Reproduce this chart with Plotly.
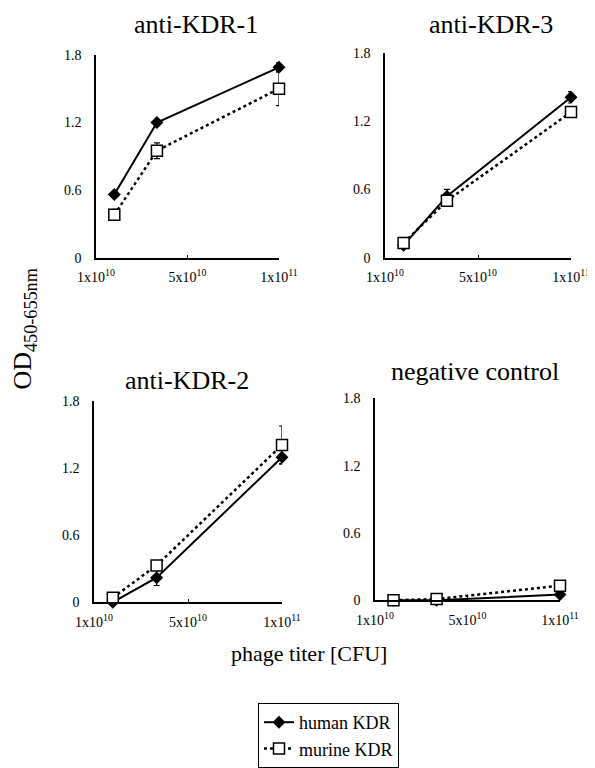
import plotly.graph_objects as go

# the page body adds an 8px margin; work in screen pixels and shift
OFF = 8
W, H = 595 - OFF, 768 - OFF

titer = [1e10, 3.33e10, 1e11]
tick_vals = [0, 5e10, 1e11]
tick_text = ["1x10<sup>10</sup>", "5x10<sup>10</sup>", "1x10<sup>11</sup>"]
y_ticks = [0, 0.6, 1.2, 1.8]
y_ticktext = ["0", "0.6", "1.2", "1.8"]

panels = ["anti-KDR-1", "anti-KDR-3", "anti-KDR-2", "negative control"]
human = {
    "anti-KDR-1": [0.56, 1.20, 1.69],
    "anti-KDR-3": [0.11, 0.54, 1.41],
    "anti-KDR-2": [0.00, 0.22, 1.30],
    "negative control": [0.00, 0.00, 0.05],
}
human_err = {
    "anti-KDR-1": [0.02, 0.02, 0.04],
    "anti-KDR-3": [0.02, 0.06, 0.05],
    "anti-KDR-2": [0.01, 0.07, 0.06],
    "negative control": [0.00, 0.00, 0.01],
}
murine = {
    "anti-KDR-1": [0.38, 0.95, 1.50],
    "anti-KDR-3": [0.13, 0.50, 1.28],
    "anti-KDR-2": [0.04, 0.33, 1.41],
    "negative control": [0.00, 0.01, 0.13],
}
murine_err = {
    "anti-KDR-1": [0.05, 0.07, 0.15],
    "anti-KDR-3": [0.02, 0.04, 0.02],
    "anti-KDR-2": [0.01, 0.02, 0.17],
    "negative control": [0.00, 0.00, 0.01],
}

# screen-pixel boxes (x0, x1, ytop, ybottom)
boxes = {
    "anti-KDR-1": (96, 279, 55, 258),
    "anti-KDR-3": (385, 571, 53, 258),
    "anti-KDR-2": (94, 282, 402, 603),
    "negative control": (375, 560, 399, 601),
}
title_pos = {
    "anti-KDR-1": (196, 25),
    "anti-KDR-3": (491, 25),
    "anti-KDR-2": (187, 381),
    "negative control": (475, 372),
}


def fx(px):
    return (px - OFF) / W


def fy(py):
    return 1 - (py - OFF) / H


FONT = "Liberation Serif"
fig = go.Figure()
layout = {}
annotations = []
for i, p in enumerate(panels):
    k = "" if i == 0 else str(i + 1)
    x0, x1, yt, yb = boxes[p]
    fig.add_trace(go.Scatter(
        x=titer, y=human[p], xaxis="x" + k, yaxis="y" + k,
        mode="lines+markers", name="human KDR", showlegend=(i == 0),
        line=dict(color="black", width=2),
        marker=dict(symbol="diamond", size=10, color="black"),
        error_y=dict(type="data", array=human_err[p], color="black", thickness=1.2, width=3),
        cliponaxis=False,
    ))
    fig.add_trace(go.Scatter(
        x=titer, y=murine[p], xaxis="x" + k, yaxis="y" + k,
        mode="lines+markers", name="murine KDR", showlegend=(i == 0),
        line=dict(color="black", width=2.5, dash="dot"),
        marker=dict(symbol="square", size=11, color="white", line=dict(color="black", width=1.5)),
        error_y=dict(type="data", array=murine_err[p], color="black", thickness=1.2, width=3),
        cliponaxis=False,
    ))
    layout["xaxis" + k] = dict(
        domain=[fx(x0), fx(x1)], anchor="y" + k, range=[0, 1e11], automargin=False,
        tickvals=tick_vals, ticktext=tick_text, showgrid=False, zeroline=False,
        showline=True, linecolor="black", linewidth=1.5, ticks="inside", ticklen=3,
        tickcolor="black", ticklabelstandoff=6,
        tickfont=dict(family=FONT, size=14, color="black"),
    )
    layout["yaxis" + k] = dict(
        domain=[fy(yb), fy(yt)], anchor="x" + k, range=[0, 1.8], automargin=False,
        tickvals=y_ticks, ticktext=y_ticktext, showgrid=False, zeroline=False,
        showline=True, linecolor="black", linewidth=1.5, ticks="", ticklabelstandoff=10,
        tickfont=dict(family=FONT, size=14, color="black"),
    )
    tx, ty = title_pos[p]
    annotations.append(dict(text=p, x=fx(tx), y=fy(ty), xref="paper", yref="paper",
                            xanchor="center", yanchor="middle", showarrow=False,
                            font=dict(family=FONT, size=26, color="black")))

annotations.append(dict(text="OD<sub>450-655nm</sub>", x=fx(24), y=fy(330),
                        xref="paper", yref="paper", showarrow=False, textangle=-90,
                        xanchor="center", yanchor="middle",
                        font=dict(family=FONT, size=26, color="black")))
annotations.append(dict(text="phage titer [CFU]", x=fx(309), y=fy(654),
                        xref="paper", yref="paper", showarrow=False,
                        xanchor="center", yanchor="middle",
                        font=dict(family=FONT, size=22, color="black")))

fig.update_layout(
    template="none",
    width=W, height=H, margin=dict(l=0, r=0, t=0, b=0),
    paper_bgcolor="white", plot_bgcolor="white",
    annotations=annotations,
    showlegend=True,
    legend=dict(x=fx(258), y=fy(704), xanchor="left", yanchor="top",
                bordercolor="black", borderwidth=1, bgcolor="white",
                font=dict(family=FONT, size=18, color="black"),
                tracegroupgap=0, itemwidth=30),
    **layout,
)
fig.write_html("out.html")
